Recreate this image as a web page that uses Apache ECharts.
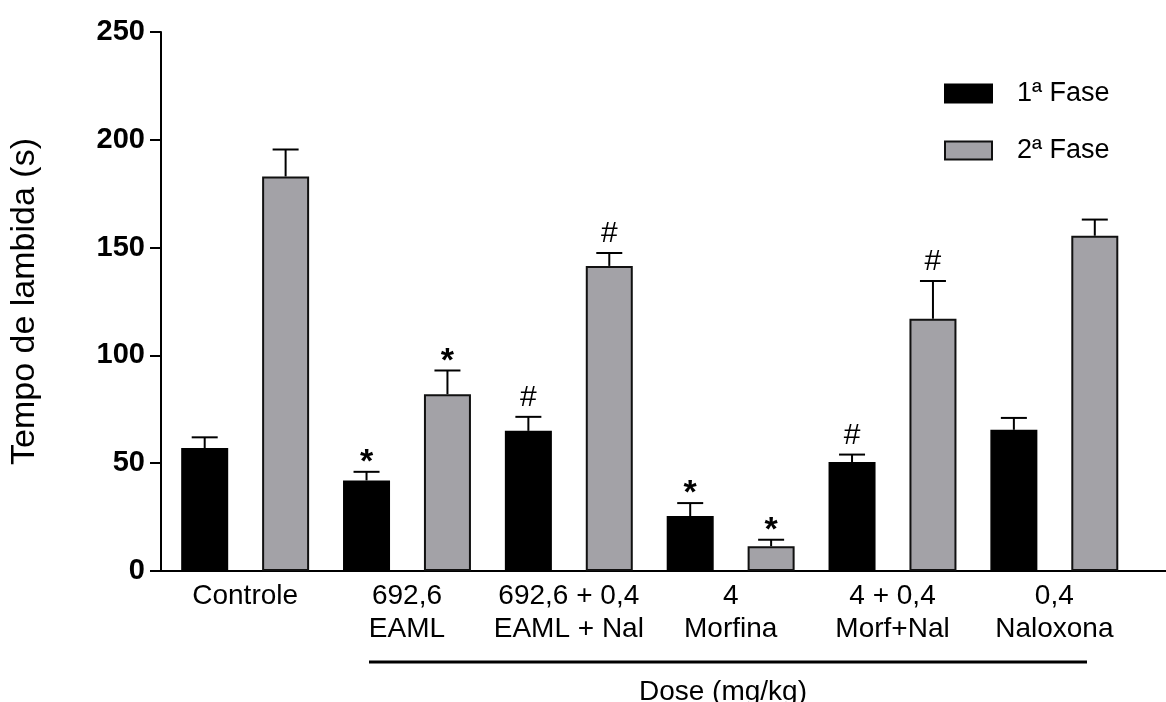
<!DOCTYPE html>
<html>
<head>
<meta charset="utf-8">
<script src="https://cdn.jsdelivr.net/npm/echarts@6/dist/echarts.min.js"></script>
<style>
  html, body { margin: 0; padding: 0; background: #fff; }
  #chart { width: 1166px; height: 702px; }
</style>
</head>
<body>
<div id="chart"></div>
<script>
// Group labels (dose on first line, treatment on second)
const categories = ['Controle', '692,6\nEAML', '692,6 + 0,4\nEAML + Nal', '4\nMorfina', '4 + 0,4\nMorf+Nal', '0,4\nNaloxona'];
// Licking time (s), mean and SEM, for each phase
const fase1 = [57, 42, 65, 25.5, 50.5, 65.5];
const fase1Err = [5, 4, 6.5, 6, 3.5, 5.5];
const fase2 = [183, 82, 141.5, 11.5, 117, 155.5];
const fase2Err = [12.5, 11, 6, 3, 17.5, 7.5];
// Significance markers above each bar
const fase1Marks = ['', '*', '#', '*', '#', ''];
const fase2Marks = ['', '*', '#', '*', '#', ''];
const yTicks = [0, 50, 100, 150, 200, 250];

const FONT = 'Liberation Sans, Arial, sans-serif';
const OFFSET = 0.25; // half distance between paired bars, in group units

const pos1 = categories.map((_, i) => i - OFFSET);
const pos2 = categories.map((_, i) => i + OFFSET);

function errorSeries(name, pos, vals, errs, marks) {
  return {
    name: name,
    type: 'custom',
    z: 5,
    data: vals.map((v, i) => [pos[i], v, errs[i]]),
    renderItem: function (params, api) {
      const x = api.value(0), v = api.value(1), e = api.value(2);
      const base = api.coord([x, v]);
      const top = api.coord([x, v + e]);
      const mark = marks[params.dataIndex];
      const children = [
        { type: 'line', shape: { x1: base[0], y1: base[1], x2: top[0], y2: top[1] },
          style: { stroke: '#000', lineWidth: 2 } },
        { type: 'line', shape: { x1: top[0] - 13, y1: top[1], x2: top[0] + 13, y2: top[1] },
          style: { stroke: '#000', lineWidth: 2 } }
      ];
      if (mark) {
        const star = mark === '*';
        children.push({
          type: 'text',
          style: {
            text: mark, x: top[0], y: top[1] - (star ? 9 : 19),
            align: 'center', verticalAlign: 'middle',
            font: (star ? 'bold 34px ' : '30px ') + FONT, fill: '#000'
          }
        });
      }
      return { type: 'group', children: children };
    }
  };
}

const chart = echarts.init(document.getElementById('chart'), null, { renderer: 'canvas' });
chart.setOption({
  animation: false,
  backgroundColor: '#fff',
  grid: { left: 160, right: 0, top: 32, bottom: 131, containLabel: false },
  legend: {
    orient: 'vertical', left: 944, top: 80, padding: 0,
    itemWidth: 47, itemHeight: 18, itemGap: 30,
    icon: 'rect',
    data: ['1ª Fase', '2ª Fase'],
    textStyle: { fontFamily: FONT, fontSize: 27, color: '#000', padding: [0, 0, 0, 20] }
  },
  xAxis: {
    type: 'value', min: -0.52, max: 5.69,
    splitLine: { show: false },
    axisLine: { show: true, onZero: false, lineStyle: { color: '#000', width: 2 } },
    axisTick: { show: false },
    axisLabel: {
      customValues: categories.map((_, i) => i),
      formatter: v => categories[Math.round(v)],
      fontFamily: FONT, fontSize: 28, lineHeight: 33, color: '#000', margin: 9,
      verticalAlign: 'top'
    }
  },
  yAxis: {
    type: 'value', min: 0, max: 250, interval: 50,
    name: 'Tempo de lambida (s)', nameLocation: 'middle', nameGap: 119,
    nameTextStyle: { fontFamily: FONT, fontSize: 34, color: '#000' },
    splitLine: { show: false },
    axisLine: { show: true, onZero: false, lineStyle: { color: '#000', width: 2 } },
    axisTick: { show: true, length: 11, lineStyle: { color: '#000', width: 2 } },
    axisLabel: {
      customValues: yTicks,
      fontFamily: FONT, fontSize: 29, fontWeight: 'bold', color: '#000', margin: 16
    }
  },
  series: [
    {
      name: '1ª Fase', type: 'bar', barWidth: 47, barGap: '-100%',
      itemStyle: { color: '#000', borderColor: '#000', borderWidth: 1.5 },
      data: fase1.map((v, i) => [pos1[i], v])
    },
    {
      name: '2ª Fase', type: 'bar', barWidth: 47, barGap: '-100%',
      itemStyle: { color: '#a3a2a7', borderColor: '#111', borderWidth: 2 },
      data: fase2.map((v, i) => [pos2[i], v])
    },
    errorSeries('err1', pos1, fase1, fase1Err, fase1Marks),
    errorSeries('err2', pos2, fase2, fase2Err, fase2Marks)
  ],
  graphic: [
    { type: 'line', shape: { x1: 369, y1: 662, x2: 1087, y2: 662 },
      style: { stroke: '#000', lineWidth: 3 } },
    { type: 'text', x: 723, y: 678,
      style: { text: 'Dose (mg/kg)', align: 'center', verticalAlign: 'top',
               font: '28px ' + FONT, fill: '#000' } }
  ]
});
</script>
</body>
</html>
